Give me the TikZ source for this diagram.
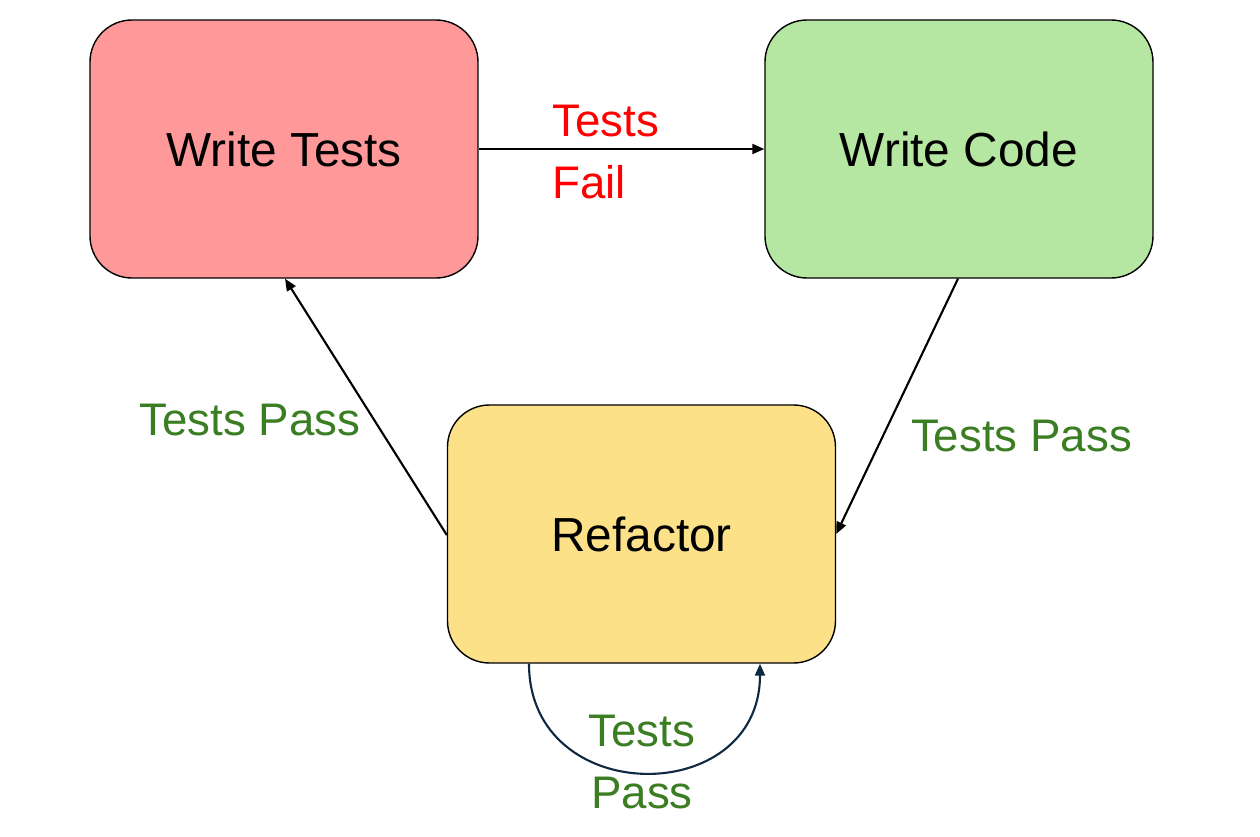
\documentclass[tikz,border=0pt]{standalone}
\usepackage{fontspec}
\setmainfont{Liberation Sans}
\usepackage{xcolor}
\usetikzlibrary{arrows.meta,positioning}
\definecolor{TestRed}{RGB}{255,153,153}
\definecolor{CodeGreen}{RGB}{181,230,162}
\definecolor{RefYellow}{RGB}{253,225,137}
\definecolor{PassGreen}{RGB}{59,125,35}
\definecolor{LoopNavy}{RGB}{14,40,65}

\begin{document}
\begin{tikzpicture}[
  stage/.style={draw=black, line width=0.4pt, rounded corners=0.42cm, minimum width=3.88cm, minimum height=2.58cm, font=\fontsize{13.6pt}{16pt}\selectfont},
  flow/.style={-{Triangle[length=1.2mm,width=1mm]}, line width=0.6pt, draw=black},
  passlbl/.style={text=PassGreen, align=center, font=\fontsize{13pt}{17.4pt}\selectfont},
  faillbl/.style={text=red, align=left, font=\fontsize{13pt}{17.4pt}\selectfont}
]
\useasboundingbox (0,0) rectangle (12.6,-8.37);

\node[stage, fill=TestRed] (tests) at (2.84,-1.49) {Write Tests};
\node[stage, fill=CodeGreen] (code) at (9.59,-1.49) {Write Code};
\node[stage, fill=RefYellow] (refactor) at (6.415,-5.34) {Refactor};

\node[faillbl, anchor=west] (faillabel) at (5.40,-1.52) {Tests\\Fail};
\node[passlbl] (passright) at (10.215,-4.36) {Tests Pass};
\node[passlbl] (passleft) at (2.50,-4.20) {Tests Pass};
\node[passlbl] (passloop) at (6.42,-7.62) {Tests\\Pass};

\draw[flow] (tests.east) -- (code.west);
\draw[flow] ([xshift=-0.01cm]code.south) -- (refactor.east);
\draw[flow] ([yshift=-0.01cm]refactor.west) -- ([xshift=0.01cm]tests.south);
\draw[flow, draw=LoopNavy] ([xshift=-1.125cm]refactor.south) .. controls +(0,-1.45) and +(0,-1.45) .. ([xshift=1.185cm]refactor.south);
\end{tikzpicture}
\end{document}
